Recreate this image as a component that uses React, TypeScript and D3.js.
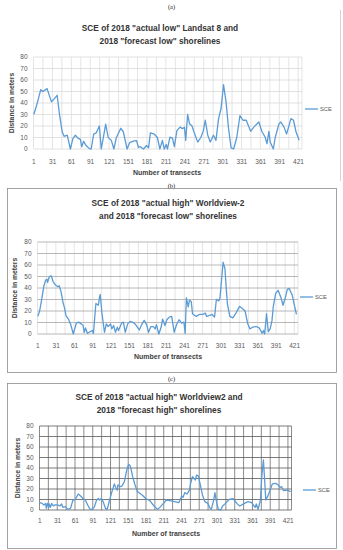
import React from 'react'
import * as d3 from 'd3'

// shared axis values
const yTicks = [0, 10, 20, 30, 40, 50, 60, 70, 80]
const xLabels = [1, 31, 61, 91, 121, 151, 181, 211, 241, 271, 301, 331, 361, 391, 421]
const transectCount = 426

// (a) actual low Landsat 8 vs forecast low
const aTransects = [1, 7, 12, 15, 18, 22, 29, 34, 38, 42, 46, 49, 54, 59, 63, 67, 71, 75, 77, 80, 84, 89, 92, 96, 100, 105, 108, 112, 115, 119, 124, 128, 132, 139, 143, 149, 153, 160, 164, 167, 170, 175, 180, 183, 186, 192, 197, 201, 205, 208, 211, 213, 217, 221, 224, 228, 233, 237, 240, 242, 245, 248, 252, 255, 261, 266, 270, 273, 277, 281, 286, 290, 294, 298, 302, 306, 310, 314, 318, 323, 328, 333, 338, 345, 350, 358, 363, 368, 371, 374, 376, 381, 384, 390, 393, 398, 402, 406, 409, 413, 417, 422]
const aSce = [30, 41, 51.6, 50, 51, 52.5, 41, 44, 46.7, 29, 15, 11, 12, 0, 9, 12, 9.5, 8.4, 2, 6.7, 3, 0.3, 0, 13, 14, 20, 0, 12, 21.7, 10, 7.5, 0, 10, 18, 15, 0, 5.5, 7, 7.2, 1.5, 2, 0, 3, 1, 14, 13, 10, 0, 7.5, 0, 4, 0, 10.4, 9.5, 2, 16, 19, 17.7, 19, 7.5, 30, 22, 20, 15, 6, 10, 16, 25, 12, 6, 12, 7.5, 26, 35, 56, 41, 17.7, 1, 0, 10, 29, 25, 25, 15.4, 19, 23.5, 15, 10.4, 4.6, 15.4, 6, 0, 10, 22, 23.5, 19, 13, 20.5, 26.4, 25, 15, 7.5]

// (b) actual high Worldview-2 vs forecast low
const bTransects = [1, 4, 8, 11, 14, 16, 17, 20, 23, 26, 30, 34, 36, 39, 42, 45, 47, 51, 55, 59, 64, 68, 72, 75, 77, 79, 82, 85, 90, 92, 96, 100, 102, 103, 106, 110, 113, 116, 120, 122, 125, 128, 131, 133, 138, 141, 144, 148, 152, 156, 161, 167, 171, 175, 179, 182, 186, 190, 193, 195, 199, 203, 205, 209, 212, 216, 220, 224, 228, 232, 236, 240, 242, 244, 247, 249, 252, 254, 260, 265, 271, 275, 277, 281, 286, 290, 293, 297, 299, 302, 304, 307, 309, 311, 315, 320, 325, 331, 336, 340, 344, 348, 352, 358, 363, 368, 370, 372, 375, 378, 381, 384, 386, 390, 394, 399, 402, 406, 409, 412, 417, 420, 424]
const bSce = [15.3, 20, 32, 42, 47, 47.6, 45, 50, 50.6, 45.6, 42.6, 41, 42, 36.8, 28, 22, 16, 13, 8, 0, 9.4, 10.3, 8.8, 7.4, 1.5, 5.3, 0.6, 1.5, 3, 0.6, 26.5, 25, 32, 34.4, 17.6, 1.5, 8.8, 6.5, 8.8, 4.4, 7.4, 1.5, 5.9, 3, 9.4, 10.3, 1.5, 8.8, 11, 10.3, 8.2, 3.5, 8.2, 11.8, 8.2, 1.5, 6.5, 6.5, 4.4, 8.2, 0, 6.5, 13, 7.4, 12.4, 14.7, 15.3, 1.5, 8.2, 12.4, 9.4, 10.3, 0.6, 31.5, 23.5, 29.4, 28, 17.6, 15.3, 17, 17, 18.2, 15.3, 15.9, 17, 14.7, 30, 28.8, 32, 50, 62.4, 57, 41, 26.5, 15.3, 14, 18.2, 24, 22, 20, 9.4, 4.4, 5.9, 6.5, 5.3, 0.6, 3, 0, 17.6, 2, 4.4, 11.8, 23.5, 35.3, 38, 31, 25, 32, 38.8, 39.7, 33.8, 26.5, 17]

// (c) actual high Worldview2 vs forecast high
const cTransects = [1, 5, 8, 11, 12, 14, 16, 17, 19, 21, 24, 27, 31, 35, 38, 40, 44, 49, 53, 57, 61, 66, 70, 74, 78, 82, 86, 89, 93, 97, 100, 102, 105, 108, 112, 115, 119, 123, 127, 130, 132, 133, 137, 140, 144, 148, 151, 154, 158, 162, 166, 170, 174, 180, 187, 194, 200, 204, 210, 215, 221, 229, 236, 241, 243, 246, 250, 254, 256, 259, 262, 264, 266, 269, 273, 276, 280, 285, 288, 291, 295, 297, 300, 303, 307, 310, 315, 321, 328, 334, 339, 347, 353, 359, 365, 367, 370, 374, 376, 379, 381, 383, 386, 390, 394, 400, 404, 407, 410, 413, 416, 421, 425]
const cSce = [7, 6.3, 4.8, 6.3, 1.6, 6.3, 2.5, 5.7, 2.5, 6.3, 4, 4.8, 4.8, 3.8, 5.7, 2.5, 3.2, 0.6, 1.6, 9.5, 10, 15.2, 13.3, 11, 9.5, 4.8, 0.6, 0.6, 2.5, 9.5, 11, 9.5, 11, 8, 1.6, 0.6, 9.5, 17.5, 24.8, 20.6, 19, 23.8, 22.2, 22.9, 27, 38, 43.5, 42, 31.7, 23.8, 17.5, 15.9, 14.3, 11, 8.9, 3.8, 0.6, 2.5, 6.3, 9.5, 8.9, 8, 7, 13.3, 12, 16.5, 15.2, 19, 25.4, 31.7, 30, 28.6, 33.3, 32.4, 22.2, 14.3, 8, 6.3, 2.5, 0.6, 9.5, 16.5, 7, 0.6, 0, 3.8, 6.3, 10, 10.8, 6.3, 3.8, 6.3, 8, 7, 2.5, 5.7, 0.6, 9.5, 30, 47.6, 30, 9.5, 12.7, 18.4, 24.8, 25.4, 23.8, 21.6, 22.2, 18.4, 19, 18.4, 17.5]

const font = '"Liberation Sans", Arial, sans-serif'
const blue = '#5B9BD5'

const panels = [
  {
    tag: '(a)', tagY: 7,
    title: ['SCE of 2018 "actual low" Landsat 8 and', '2018 "forecast low" shorelines'],
    titleX: 160, titleY: 31,
    left: 33.5, right: 302, top: 57, bottom: 149,
    yTitleX: 12, xLabelY: 164, xTitleY: 175, xTitleX: 167,
    legendY: 109, legendX: 305,
    hGrid: '#d9d9d9', vGrid: '#d9d9d9',
    frame: 'right',
    t: aTransects, v: aSce,
  },
  {
    tag: '(b)', tagY: 186,
    title: ['SCE of 2018 "actual high" Worldview-2', 'and 2018 "forecast low" shorelines'],
    titleX: 168, titleY: 206,
    left: 37.5, right: 298, top: 242, bottom: 334,
    yTitleX: 15, xLabelY: 348, xTitleY: 358.5, xTitleX: 168,
    legendY: 297, legendX: 300,
    hGrid: '#a6a6a6', vGrid: '#d9d9d9',
    frame: 'box', frameTop: 188.5, frameBottom: 372.5,
    t: bTransects, v: bSce,
  },
  {
    tag: '(c)', tagY: 379,
    title: ['SCE of 2018 "actual high" Worldview2 and', '2018 "forecast high" shorelines'],
    titleX: 159, titleY: 400,
    left: 39.5, right: 291.5, top: 426, bottom: 510,
    yTitleX: 18, xLabelY: 523, xTitleY: 536, xTitleX: 166,
    legendY: 490, legendX: 303,
    hGrid: '#595959', vGrid: '#595959',
    frame: 'box', frameTop: 383.5, frameBottom: 548.5,
    t: cTransects, v: cSce,
  },
]

const Panel = ({ p }: { p: any }) => {
  const x = d3.scaleLinear().domain([0.5, transectCount + 0.5]).range([p.left, p.right])
  const y = d3.scaleLinear().domain([0, 80]).range([p.bottom, p.top])
  const path = d3
    .line<number>()
    .x((d, i) => x(p.t[i]))
    .y((d) => y(d))(p.v)
  const vLines = d3.range(0.5, transectCount, 15).concat([transectCount + 0.5])

  return (
    <g>
      <text x={171.5} y={p.tagY + 2} fontSize={6.5} fontFamily="serif" textAnchor="middle" fill="#222">
        {p.tag}
      </text>
      {p.frame === 'box' ? (
        <rect x={7.5} y={p.frameTop} width={329} height={p.frameBottom - p.frameTop} fill="none" stroke="#8c8c8c" strokeWidth={0.8} />
      ) : (
        <line x1={340.5} x2={340.5} y1={10} y2={181} stroke="#c8c8c8" strokeWidth={0.8} />
      )}
      {p.title.map((s: string, i: number) => (
        <text key={i} x={p.titleX} y={p.titleY + i * 12.5} fontSize={8.3} fontWeight="bold" fontFamily={font} textAnchor="middle" fill="#333">
          {s}
        </text>
      ))}
      {vLines.map((d) => (
        <line key={'v' + d} x1={x(d)} x2={x(d)} y1={p.top} y2={p.bottom} stroke={p.vGrid} strokeWidth={0.7} />
      ))}
      {yTicks.map((d) => (
        <line key={'h' + d} x1={p.left} x2={p.right} y1={y(d)} y2={y(d)} stroke={p.hGrid} strokeWidth={0.8} />
      ))}
      <path d={path || ''} fill="none" stroke={blue} strokeWidth={1.3} strokeLinejoin="round" />
      {yTicks.map((d) => (
        <text key={'yl' + d} x={p.left - 6} y={y(d) + 2.3} fontSize={6.5} fontFamily={font} textAnchor="end" fill="#595959">
          {d}
        </text>
      ))}
      {xLabels.map((d) => (
        <text key={'xl' + d} x={x(d)} y={p.xLabelY} fontSize={6.5} fontFamily={font} textAnchor="middle" fill="#595959">
          {d}
        </text>
      ))}
      <text
        transform={`translate(${p.yTitleX},${(p.top + p.bottom) / 2}) rotate(-90)`}
        dy="0.35em"
        fontSize={6.8}
        fontWeight="bold"
        fontFamily={font}
        textAnchor="middle"
        fill="#404040"
      >
        Distance in meters
      </text>
      <text x={p.xTitleX} y={p.xTitleY} fontSize={7} fontWeight="bold" fontFamily={font} textAnchor="middle" fill="#404040">
        Number of transects
      </text>
      <line x1={p.legendX} x2={p.legendX + 13} y1={p.legendY} y2={p.legendY} stroke={blue} strokeWidth={1.3} />
      <text x={p.legendX + 15} y={p.legendY + 2} fontSize={5.8} fontFamily={font} fill="#595959">
        SCE
      </text>
    </g>
  )
}

export default function App() {
  return (
    <svg width={343} height={550} style={{ position: 'absolute', left: 0, top: 0, background: '#fff' }}>
      <rect width={343} height={550} fill="#fff" />
      {panels.map((p) => (
        <Panel key={p.tag} p={p} />
      ))}
    </svg>
  )
}
